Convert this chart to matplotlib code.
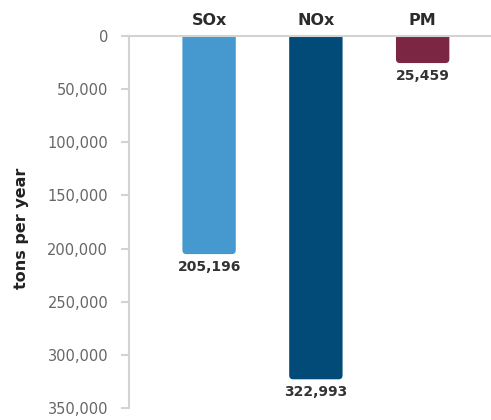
import matplotlib
matplotlib.use("Agg")
import matplotlib.pyplot as plt
from matplotlib.patches import FancyBboxPatch
from matplotlib.ticker import FuncFormatter

# Annual emission reductions by pollutant
pollutants = ["SOx", "NOx", "PM"]
tons_per_year = [205196, 322993, 25459]
bar_colors = ["#4599CF", "#024B78", "#7B2743"]
y_ticks = [0, 50000, 100000, 150000, 200000, 250000, 300000, 350000]

plt.rcParams["font.family"] = ["DejaVu Sans"]

fig = plt.figure(figsize=(4.91, 4.20), dpi=100)
ax = fig.add_axes([129 / 491, 1 - 408 / 420, 1 - 129 / 491, (408 - 36) / 420])

ax.set_xlim(-0.75, 2.64)
ax.set_ylim(350000, 0)

bar_w = 0.5
r_x = 0.037          # corner radius in x data units (~4 px)
r_y = 3800           # corner radius in y data units (~4 px)
for i, (v, c) in enumerate(zip(tons_per_year, bar_colors)):
    # start above the zero line so only the far-end corners show as rounded
    y0 = -2 * r_y
    patch = FancyBboxPatch((i - bar_w / 2, y0), bar_w, v - y0,
                           boxstyle=f"round,pad=0,rounding_size={r_x}",
                           mutation_aspect=r_y / r_x,
                           facecolor=c, edgecolor="none", clip_on=True, zorder=2)
    ax.add_patch(patch)
    ax.annotate(f"{v:,}", xy=(i, v), xytext=(0, -4), textcoords="offset points",
                ha="center", va="top", fontsize=10, fontweight="bold",
                color="#333333", zorder=3)

# category labels along the top
ax.xaxis.tick_top()
ax.set_xticks(range(len(pollutants)))
ax.set_xticklabels(pollutants, fontsize=11.5, fontweight="bold", color="#2b2b2b")
ax.tick_params(axis="x", length=0, pad=6)

ax.set_yticks(y_ticks)
ax.yaxis.set_major_formatter(FuncFormatter(lambda v, p: f"{int(v):,}"))
ax.tick_params(axis="y", length=6, width=1.5, color="#d3d3d3", pad=9,
               labelsize=10.5, labelcolor="#666666")

for side in ["right", "bottom"]:
    ax.spines[side].set_visible(False)
for side in ["left", "top"]:
    ax.spines[side].set_color("#d3d3d3")
    ax.spines[side].set_linewidth(1.5)
    ax.spines[side].set_zorder(4)

fig.text(22 / 491, 1 - 228 / 420, "tons per year", rotation=90,
         ha="center", va="center", fontsize=11.5, fontweight="bold",
         color="#222222")

fig.savefig("out.png", dpi=100)
